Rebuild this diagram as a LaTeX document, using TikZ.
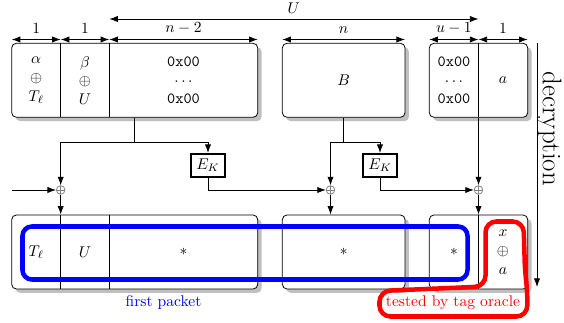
\documentclass[tikz,border=0pt]{standalone}
\usetikzlibrary{arrows.meta,shadows}

\tikzset{
  pkt/.style={draw, fill=white, rounded corners=3pt, inner sep=0pt, minimum height=47.6pt,
    drop shadow={shadow xshift=2.5pt, shadow yshift=-2.5pt, fill=black!25, opacity=1}},
  cell/.style={align=center, inner sep=0pt},
  xorc/.style={circle, draw=black!50, minimum size=5.5pt, inner sep=0pt,
    path picture={\draw[black!50] (path picture bounding box.north) -- (path picture bounding box.south)
      (path picture bounding box.west) -- (path picture bounding box.east);}},
  ekbox/.style={draw, line width=1.1pt, minimum width=22pt, minimum height=15pt, inner sep=2pt},
  dim/.style={<->}
}

\begin{document}
\begin{tikzpicture}[x=0.643pt, y=-0.643pt, line width=0.5pt,
    >={Latex[length=5.5pt,width=4pt]}] % one unit = one pixel of the sketch

  \useasboundingbox (0,0) rectangle (564,323);

  % Packets before decryption
  \node[pkt, minimum width=158.2pt] (a1) at (134.7,80.3) {};
  \node[pkt, minimum width=78.9pt] (a2) at (343.7,80.3) {};
  \node[pkt, minimum width=63.3pt] (a3) at (478.5,80.3) {};
  \draw (60.7,43.3) -- (60.7,117.3) (109.3,43.3) -- (109.3,117.3);
  \draw (478.5,43.3) -- (478.5,117.3);

  \node[cell] (ta1) at (36.2,80.3) {$\alpha$\\$\oplus$\\$T_\ell$};
  \node[cell] (ta2) at (85,80.3) {$\beta$\\$\oplus$\\$U$};
  \node[cell] (ta3) at (183.5,80.3) {\texttt{0x00}\\$\cdots$\\\texttt{0x00}};
  \node (tb) at (343.7,80.3) {$B$};
  \node[cell] (tc1) at (454,80.3) {\texttt{0x00}\\$\cdots$\\\texttt{0x00}};
  \node (tc2) at (503,80.3) {$a$};

  % Lengths
  \foreach \l/\r/\t [count=\i] in {11.7/60.7/1, 60.7/109.3/1, 109.3/257.7/$n-2$,
      282.3/405/$n$, 429.3/478.5/$u-1$, 478.5/527.7/1}
    \draw[dim] (\l,39.5) -- node[above] (len\i) {\t} (\r,39.5);
  \draw[dim] (109.3,19) -- node[above] (lenU) {$U$} (478.5,19);

  % Packets after decryption
  \node[pkt, minimum width=158.2pt] (b1) at (134.7,252) {};
  \node[pkt, minimum width=78.9pt] (b2) at (343.7,252) {};
  \node[pkt, minimum width=63.3pt] (b3) at (478.5,252) {};
  \draw (60.7,215) -- (60.7,289) (109.3,215) -- (109.3,289);
  \draw (478.5,215) -- (478.5,289);

  \node (pa1) at (36.2,252) {$T_\ell$};
  \node (pa2) at (85,252) {$U$};
  \node (pa3) at (183.5,252) {$*$};
  \node (pb) at (343.7,252) {$*$};
  \node (pc1) at (454,252) {$*$};
  \node[cell] (pc2) at (503,252) {$x$\\$\oplus$\\$a$};

  % Block cipher and xor
  \node[ekbox] (e1) at (208,165.5) {$E_K$};
  \node[ekbox] (e2) at (380,165.5) {$E_K$};
  \node[xorc] (x1) at (60.7,190) {};
  \node[xorc] (x2) at (330.5,190) {};
  \node[xorc] (x3) at (478.5,190) {};
  \coordinate (in) at (11.7,190);

  \draw (a1.south) -- ++(0,24.7) coordinate (j1);
  \draw[->] (j1) -| (x1);
  \draw[->] (j1) -| (e1);
  \draw (a2.south) -- ++(0,24.7) coordinate (j2);
  \draw[->] (j2) -| (x2);
  \draw[->] (j2) -| (e2);
  \draw[->] (a3.south) -- (x3);
  \draw[->] (in) -- (x1);
  \draw[->] (e1) |- (x2);
  \draw[->] (e2) |- (x3);
  \draw[->] (x1) -- (x1 |- b1.north);
  \draw[->] (x2) -- (x2 |- b2.north);
  \draw[->] (x3) -- (x3 |- b3.north);

  % Direction
  \coordinate (dtop) at (537,43.3);
  \coordinate (dbot) at (537,287);
  \draw[->] (dtop) -- (dbot);
  \node[rotate=-90, font=\LARGE, inner sep=0pt] (dec) at (549.5,129) {decryption};

  % Marks
  \draw[blue, line width=2.9pt, rounded corners=6pt] (22.5,226.5) rectangle (467.5,279.5);
  \node[blue] (first) at (163.5,303) {first packet};
  \draw[red, line width=2.9pt, rounded corners=7pt] (485.5,221.5) -- (523.5,221.5) -- (525,272)
    -- (527.3,289) -- (527.3,316.5) -- (379.5,316.5) -- (379.5,291) -- (485.5,286.5) -- cycle;
  \node[red] (oracle) at (453,303) {tested by tag oracle};
\end{tikzpicture}
\end{document}
